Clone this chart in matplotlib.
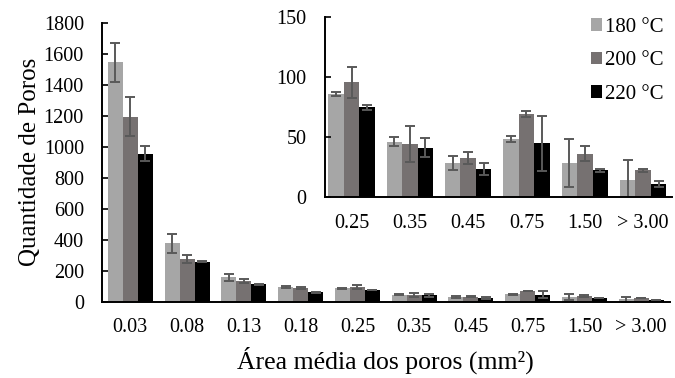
import numpy as np
from matplotlib import pyplot as plt

plt.rcParams['font.family'] = ['Liberation Serif', 'DejaVu Serif']

categories = ['0.03', '0.08', '0.13', '0.18', '0.25', '0.35', '0.45', '0.75', '1.50', '> 3.00']
series = ['180 °C', '200 °C', '220 °C']

t180 = [1545, 377, 157, 95, 85.5, 46, 28, 48.5, 28.5, 14.5]
t200 = [1194, 273, 134, 87, 95.5, 44, 32.5, 69, 36, 22]
t220 = [955, 258, 112, 60, 74.5, 41, 23, 44.5, 22, 11]

e180 = [125, 60, 23, 6, 1.5, 4, 6, 2.5, 20, 16.5]
e200 = [125, 26, 12, 5, 13, 15, 5, 2.5, 6.5, 1]
e220 = [50, 5, 3, 3, 2, 8, 5, 23, 1, 2.5]

colors = ['#a6a6a6', '#767171', '#000000']
err_color = '#595959'

values = [t180, t200, t220]
errors = [e180, e200, e220]

fig = plt.figure(figsize=(6.75, 3.78), dpi=100)
ax = fig.add_axes([0.151, 0.202, 0.841, 0.738])

width = 0.265
x = np.arange(len(categories))
for i in range(3):
    ax.bar(x + (i - 1) * width, values[i], width, color=colors[i],
           yerr=errors[i], ecolor=err_color,
           error_kw=dict(elinewidth=1.4, capsize=3.5, capthick=1.4))

ax.set_xlim(-0.5, 9.5)
ax.set_ylim(0, 1800)
ax.set_yticks(range(0, 1801, 200))
ax.set_xticks(x)
ax.set_xticklabels(categories)
ax.tick_params(axis='y', direction='in', length=4, width=1.2, labelsize=14.5, pad=13)
ax.tick_params(axis='x', length=0, labelsize=14.5, pad=12)
for s in ['top', 'right']:
    ax.spines[s].set_visible(False)
for s in ['left', 'bottom']:
    ax.spines[s].set_linewidth(1.4)
ax.set_ylabel('Quantidade de Poros', fontsize=18, labelpad=2)
ax.set_xlabel('Área média dos poros (mm²)', fontsize=18.5, labelpad=7)

# zoomed view of the larger pore sizes
axi = fig.add_axes([0.481, 0.479, 0.515, 0.477])
xi = np.arange(len(categories) - 4)
for i in range(3):
    axi.bar(xi + (i - 1) * width, values[i][4:], width, color=colors[i],
            yerr=errors[i][4:], ecolor=err_color, label=series[i],
            error_kw=dict(elinewidth=1.4, capsize=3.5, capthick=1.4))

axi.set_xlim(-0.46, 5.5)
axi.set_ylim(0, 150)
axi.set_yticks([0, 50, 100, 150])
axi.set_xticks(xi)
axi.set_xticklabels(categories[4:])
axi.tick_params(axis='y', direction='in', length=4, width=1.2, labelsize=14.5, pad=13)
axi.tick_params(axis='x', length=0, labelsize=14.5, pad=12)
for s in ['top', 'right']:
    axi.spines[s].set_visible(False)
for s in ['left', 'bottom']:
    axi.spines[s].set_linewidth(1.4)
axi.patch.set_alpha(0)
axi.legend(loc='upper right', frameon=False, fontsize=15, handlelength=0.55,
           handleheight=0.55, handletextpad=0.15, labelspacing=0.7,
           borderaxespad=0.0, bbox_to_anchor=(1.0, 1.04))

fig.savefig('out.png')
